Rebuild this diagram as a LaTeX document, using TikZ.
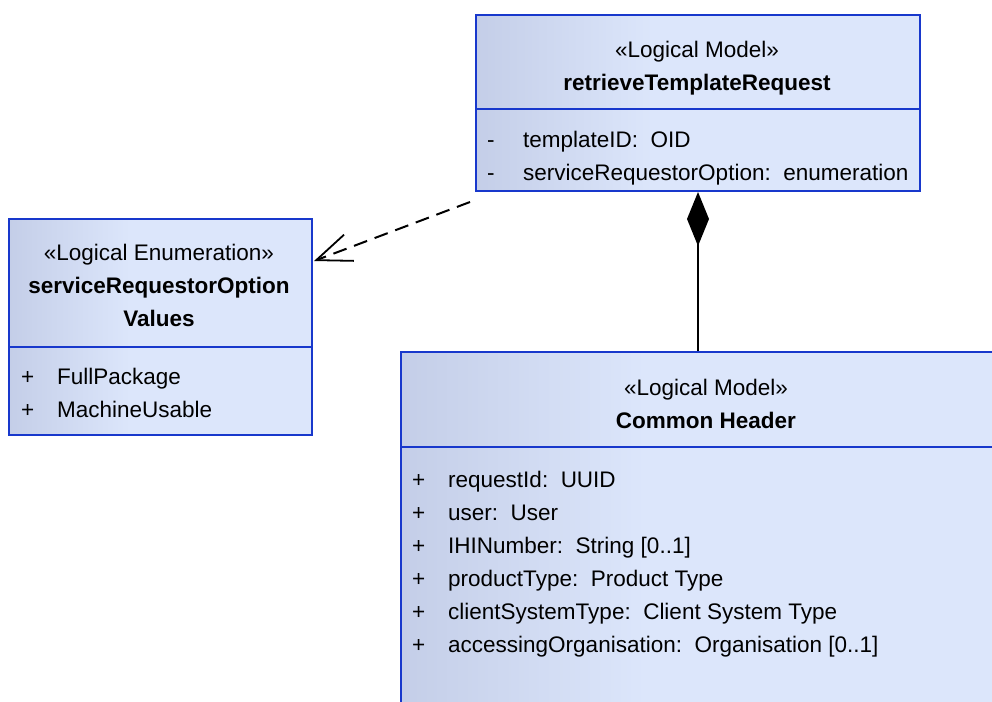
\documentclass[tikz,border=0pt]{standalone}
\usepackage{fontspec}
\setmainfont{Liberation Sans}
\usetikzlibrary{arrows.meta, positioning, calc}

\definecolor{umlborder}{RGB}{24,56,204}
\definecolor{umlleft}{RGB}{196,206,232}
\definecolor{umlright}{RGB}{220,230,251}
\pgfdeclarehorizontalshading{umlfade}{100bp}{color(0bp)=(umlleft); color(25bp)=(umlleft); color(45bp)=(umlright); color(100bp)=(umlright)}

\newcommand{\umlvis}[1]{\makebox[36pt][l]{#1}}

\tikzset{
  umlbox/.style={draw=umlborder, line width=2pt, shading=umlfade, anchor=north west, inner sep=0pt},
  umldiv/.style={draw=umlborder, line width=2pt},
  umltxt/.style={inner sep=0pt, anchor=base, font=\fontsize{22.5}{27}\selectfont},
  umlname/.style={umltxt, font=\fontsize{22.5}{27}\selectfont\bfseries},
  attr/.style={umltxt, anchor=base west},
  depline/.style={line width=2pt, dash pattern=on 14pt off 8pt, -{Straight Barb[length=35pt, width=28pt, line width=1.8pt]}},
  compline/.style={line width=1.8pt, {Diamond[length=54pt, width=22pt]}-},
}

\begin{document}
\begin{tikzpicture}[x=1pt, y=-1pt]
    \useasboundingbox (0,0) rectangle (992,701);
    \clip (0,0) rectangle (992,701);

    % classes
    \node[umlbox, minimum width=444pt, minimum height=176pt] (req) at (475,14) {};
    \draw[umldiv] ($(req.north west)+(0,95)$) -- ($(req.north east)+(0,95)$);

    \node[umlbox, minimum width=303pt, minimum height=216pt] (enum) at (8,218) {};
    \draw[umldiv] ($(enum.north west)+(0,129)$) -- ($(enum.north east)+(0,129)$);

    \node[umlbox, minimum width=612pt, minimum height=372pt] (hdr) at (400,351) {};
    \draw[umldiv] ($(hdr.north west)+(0,96)$) -- ($(hdr.north east)+(0,96)$);

    % retrieveTemplateRequest
    \node[umltxt] (reqst) at (697,57) {«Logical Model»};
    \node[umlname] (reqname) at (697,90) {retrieveTemplateRequest};
    \node[attr] (reqa1) at (487,147) {\umlvis{-}templateID:\ \ OID};
    \node[attr] (reqa2) at (487,180) {\umlvis{-}serviceRequestorOption:\ \ enumeration};

    % serviceRequestorOptionValues
    \node[umltxt] (enumst) at (159,260) {«Logical Enumeration»};
    \node[umlname] (enumname) at (159,293) {serviceRequestorOption};
    \node[umlname] (enumname2) at (159,326) {Values};
    \node[attr] (enuma1) at (21,384) {\umlvis{+}FullPackage};
    \node[attr] (enuma2) at (21,417) {\umlvis{+}MachineUsable};

    % Common Header
    \node[umltxt] (hdrst) at (706,395) {«Logical Model»};
    \node[umlname] (hdrname) at (706,428) {Common Header};
    \node[attr] (hdra1) at (412,487) {\umlvis{+}requestId:\ \ UUID};
    \node[attr] (hdra2) at (412,520) {\umlvis{+}user:\ \ User};
    \node[attr] (hdra3) at (412,553) {\umlvis{+}IHINumber:\ \ String [0..1]};
    \node[attr] (hdra4) at (412,586) {\umlvis{+}productType:\ \ Product Type};
    \node[attr] (hdra5) at (412,619) {\umlvis{+}clientSystemType:\ \ Client System Type};
    \node[attr] (hdra6) at (412,652) {\umlvis{+}accessingOrganisation:\ \ Organisation [0..1]};

    % connectors
    \coordinate (depstart) at ($(req.south west)+(-5,10)$);
    \coordinate (deptip) at ($(enum.north east)+(1,43)$);
    \draw[depline] (depstart) -- (deptip);
    \draw[compline] (req.south) -- (req.south |- hdr.north);
\end{tikzpicture}
\end{document}
